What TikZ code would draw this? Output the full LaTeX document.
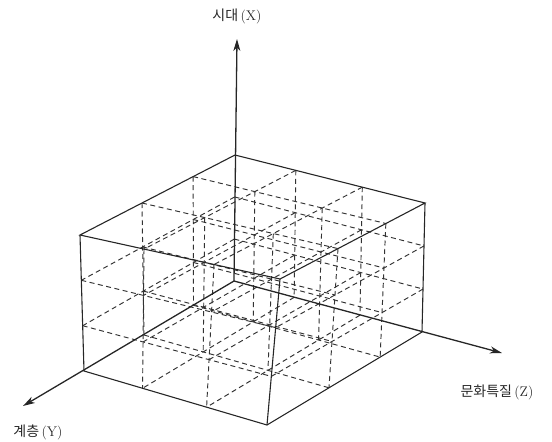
\documentclass[tikz,border=0pt]{standalone}
\usepackage{fontspec}
\newfontfamily\krfont{Noto Sans CJK KR}
\usetikzlibrary{arrows.meta,positioning,calc}

\begin{document}
\begin{tikzpicture}[
    x=1pt, y=-1pt,
    edge/.style={line width=1.1pt, draw=black!85},
    axis/.style={line width=1.3pt, draw=black!85, -{Stealth[length=12pt,width=7pt,inset=3.5pt]}},
    cell/.style={line width=0.95pt, draw=black!80, dash pattern=on 5pt off 3.5pt},
    lab/.style={font=\fontsize{14}{16}\selectfont, inner sep=0pt, text=black!85}
]
\useasboundingbox (0,0) rectangle (552,442);
% box corners: t = top, b = bottom; b = back, l = left, f = front, r = right
\coordinate (tb) at (235,155);
\coordinate (tl) at (80,235);
\coordinate (tf) at (280,279);
\coordinate (tr) at (425,203);
\coordinate (bb) at (234,281);
\coordinate (bl) at (84,371);
\coordinate (bf) at (267,425);
\coordinate (br) at (422,332);
\coordinate (xtip) at (237,39);
\coordinate (ytip) at (23,406);
\coordinate (ztip) at (502,353);

% vertical cell lines
\foreach \a/\blist in {0/{.32,.67}, .27/{0,.32,.67,1}, .6/{0,.32,.67,1}, 1/{.32,.67}}
  \foreach \b in \blist {
    \path ($(tb)!\a!(tl)$) coordinate (p1) ($(tr)!\a!(tf)$) coordinate (p2)
          ($(bb)!\a!(bl)$) coordinate (p3) ($(br)!\a!(bf)$) coordinate (p4);
    \draw[cell] ($(p1)!\b!(p2)$) -- ($(p3)!\b!(p4)$);
  }
% cell lines along Y
\foreach \b/\clist in {0/{.333,.667}, .32/{0,.333,.667,1}, .67/{0,.333,.667,1}, 1/{.333,.667}}
  \foreach \c in \clist {
    \path ($(tb)!\b!(tr)$) coordinate (p1) ($(bb)!\b!(br)$) coordinate (p2)
          ($(tl)!\b!(tf)$) coordinate (p3) ($(bl)!\b!(bf)$) coordinate (p4);
    \draw[cell] ($(p1)!\c!(p2)$) -- ($(p3)!\c!(p4)$);
  }
% cell lines along Z
\foreach \a/\clist in {0/{.333,.667}, .27/{0,.333,.667,1}, .6/{0,.333,.667,1}, 1/{.333,.667}}
  \foreach \c in \clist {
    \path ($(tb)!\a!(tl)$) coordinate (p1) ($(bb)!\a!(bl)$) coordinate (p2)
          ($(tr)!\a!(tf)$) coordinate (p3) ($(br)!\a!(bf)$) coordinate (p4);
    \draw[cell] ($(p1)!\c!(p2)$) -- ($(p3)!\c!(p4)$);
  }

% box edges
\draw[edge] (tb) -- (tl) -- (tf) -- (tr) -- cycle;
\draw[edge] (tl) -- (bl) -- (bf) -- (br) -- (tr);
\draw[edge] (tf) -- (bf);

% axes
\draw[axis] (bb) -- (xtip);
\draw[axis] (bb) -- (ytip);
\draw[axis] (bb) -- (ztip);
\node[lab, above=15pt of xtip] (xlab) {{\krfont 시대}\,(X)};
\node[lab, below=19pt of ytip, xshift=15pt] (ylab) {{\krfont 계층}\,(Y)};
\node[lab, below=32pt of ztip, xshift=-5pt] (zlab) {{\krfont 문화특질}\,(Z)};
\end{tikzpicture}
\end{document}
